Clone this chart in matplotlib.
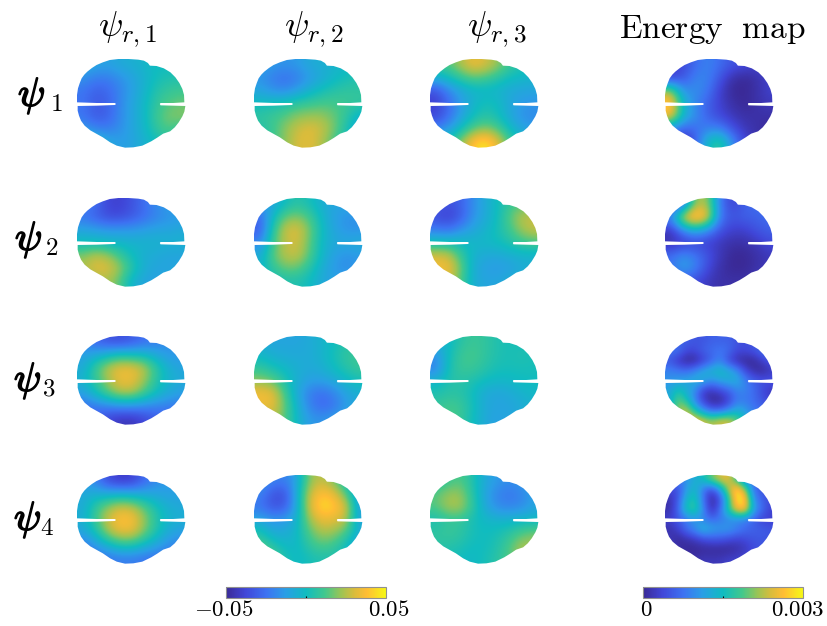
import matplotlib
matplotlib.use("Agg")
import matplotlib.pyplot as plt
import matplotlib.patheffects as pe
from matplotlib.cm import ScalarMappable
from matplotlib.colors import LinearSegmentedColormap, Normalize
from matplotlib.patches import Polygon
import numpy as np

plt.rcParams["mathtext.fontset"] = "cm"

W, H = 827, 626

col_titles = [r"$\psi_{r,1}$", r"$\psi_{r,2}$", r"$\psi_{r,3}$", r"$\mathrm{Energy\ \ map}$"]
row_digits = ["1", "2", "3", "4"]

# values: psi maps in 1e-3, energy maps in 1e-4
psi1_r1 = [[-8, -10, -12, -8, -6, -3, 0, 0, 0],
           [-16, -22, -22, -17, -11, -5, 1, 4, 4],
           [-24, -30, -28, -20, -12, -4, 5, 9, 11],
           [-24, -32, -30, -19, -10, -2, 8, 14, 16],
           [-24, -32, -30, -19, -10, -2, 10, 18, 20],
           [-14, -20, -22, -17, -10, -3, 8, 14, 6],
           [5, 0, -8, -13, -11, -5, 0, 5, 5]]
psi1_r2 = [[-10, -14, -16, -14, -8, -6, -4, -2, 0],
           [-16, -22, -26, -22, -14, -8, -2, 2, 4],
           [-10, -16, -18, -12, -4, 2, 6, 8, 8],
           [0, 2, 4, 8, 10, 12, 12, 10, 8],
           [8, 10, 14, 20, 22, 22, 16, 8, -4],
           [4, 10, 20, 28, 32, 28, 18, 4, -12],
           [5, 10, 20, 30, 32, 25, 12, 0, 0]]
psi1_r3 = [[10, 14, 24, 34, 30, 22, 10, 4, 0],
           [-6, 0, 8, 14, 12, 6, 0, -2, -4],
           [-35, -20, -10, -4, -3, -4, -8, -10, -10],
           [-40, -28, -14, -4, 2, 0, -8, -14, -16],
           [-38, -26, -12, 0, 6, 2, -8, -16, -18],
           [-20, -14, 0, 14, 20, 14, 0, -10, -14],
           [0, 6, 20, 40, 48, 34, 12, 0, 0]]
psi1_en = [[3, 4, 7, 9, 7, 5, 4, 3, 3],
           [3, 5, 9, 9, 5, 1, 0, 1, 3],
           [22, 10, 10, 8, 3, 0, 0, 1, 3],
           [28, 14, 9, 6, 3, 1, 0, 1, 2],
           [26, 14, 10, 6, 4, 2, 1, 1, 1],
           [10, 6, 7, 9, 9, 5, 2, 1, 0],
           [2, 0, 6, 15, 18, 10, 4, 1, 2]]

psi2_r1 = [[-20, -26, -38, -40, -34, -26, -18, -12, -10],
           [-24, -30, -36, -36, -32, -26, -20, -16, -14],
           [-10, -12, -14, -14, -14, -12, -10, -10, -8],
           [0, 0, -2, -3, -4, -4, -4, -5, -5],
           [18, 26, 22, 10, 0, -6, -8, -10, -10],
           [26, 32, 32, 22, 6, -6, -10, -10, -10],
           [14, 22, 24, 14, -4, -10, -12, -8, -8]]
psi2_r2 = [[-15, -10, 0, 6, 2, -6, -10, -10, -10],
           [-28, -2, 16, 20, 12, -2, -12, -16, -16],
           [-32, 6, 28, 32, 18, 0, -10, -16, -16],
           [-20, 10, 26, 30, 16, -2, -8, -8, -6],
           [-8, 14, 26, 28, 14, -2, -12, -16, -14],
           [-4, 8, 16, 16, 6, -6, -14, -18, -14],
           [0, 0, 4, 4, 0, -8, -12, -10, -10]]
psi2_r3 = [[-30, -35, -30, -18, -8, 0, 8, 14, 14],
           [-36, -40, -32, -16, -8, 0, 14, 26, 28],
           [-22, -25, -16, -10, -4, 2, 10, 22, 28],
           [2, 2, 0, -2, -2, 0, 4, 10, 12],
           [30, 28, 10, -4, -8, -8, -6, -4, -4],
           [36, 36, 18, -6, -12, -14, -12, -8, -6],
           [30, 30, 14, -6, -10, -10, -6, -4, -4]]
psi2_en = [[2, 6, 22, 22, 8, 3, 6, 7, 8],
           [10, 26, 30, 26, 8, 5, 6, 6, 7],
           [2, 10, 14, 10, 5, 3, 3, 5, 6],
           [1, 2, 3, 3, 2, 1, 1, 2, 4],
           [7, 10, 8, 5, 2, 0, 0, 1, 2],
           [8, 12, 9, 4, 1, 0, 0, 1, 2],
           [4, 5, 4, 2, 1, 1, 1, 2, 3]]

psi3_r1 = [[-20, -28, -34, -36, -32, -26, -22, -18, -14],
           [-12, -8, -2, 4, 2, 0, -8, -14, -16],
           [-8, 10, 26, 34, 34, 26, 8, -6, -10],
           [-4, 8, 22, 34, 34, 22, 6, -4, -8],
           [-12, 0, 14, 24, 24, 12, 0, -8, -12],
           [-26, -22, -20, -16, -16, -18, -20, -22, -24],
           [-30, -32, -38, -44, -44, -38, -32, -28, -26]]
psi3_r2 = [[-8, -10, -10, -10, -8, -4, 0, 6, 6],
           [-2, -6, -8, -8, -8, -4, 2, 8, 10],
           [8, 2, -2, -6, -8, -6, 0, 6, 10],
           [20, 16, 4, -6, -12, -12, -8, -2, 2],
           [36, 34, 12, -8, -22, -26, -20, -10, -6],
           [34, 34, 16, -4, -20, -28, -24, -14, -8],
           [20, 26, 14, -2, -14, -16, -12, -8, -8]]
psi3_r3 = [[-6, -2, 6, 10, 8, 4, 2, 2, 2],
           [-16, 0, 10, 12, 8, 4, 2, 4, 2],
           [-22, 2, 10, 10, 6, 2, 2, 2, 2],
           [-4, 4, 6, 4, 0, -2, -2, 0, 0],
           [4, 6, 6, 0, -8, -10, -8, -4, -2],
           [8, 12, 10, 2, -8, -10, -10, -8, -4],
           [10, 14, 10, 0, -8, -12, -10, -6, -4]]
psi3_en = [[6, 6, 6, 5, 5, 6, 6, 6, 5, 4, 5, 6, 6],
           [8, 8, 4, 4, 6, 7, 8, 7, 4, 4, 5, 7, 8],
           [5, 2, 0, 0, 3, 6, 9, 4, 1, 0, 0, 3, 5],
           [9, 8, 7, 9, 12, 14, 15, 13, 10, 4, 1, 0, 2],
           [10, 11, 12, 13, 13, 10, 12, 13, 13, 9, 6, 5, 5],
           [12, 16, 13, 10, 3, 2, 4, 6, 9, 9, 7, 4, 2],
           [12, 20, 16, 9, 3, 0, 0, 3, 8, 8, 7, 5, 3],
           [12, 22, 24, 16, 10, 6, 6, 9, 13, 11, 8, 7, 6],
           [10, 14, 24, 26, 24, 22, 24, 24, 20, 14, 10, 8, 8]]

psi4_r1 = [[-14, -20, -36, -42, -40, -28, -18, -14, -12],
           [-8, -6, -6, -4, -6, -8, -10, -12, -12],
           [-8, 8, 20, 28, 26, 14, 2, -6, -8],
           [-6, 10, 28, 40, 38, 22, 6, -4, -6],
           [-10, 2, 22, 32, 32, 18, 4, -8, -12],
           [-24, -14, -4, 6, 6, -2, -10, -18, -22],
           [-28, -26, -24, -22, -22, -24, -26, -24, -22]]
psi4_r2 = [[-14, -20, -22, -10, 20, 28, 18, 0, -10],
           [-20, -34, -36, -6, 28, 40, 34, 14, -14],
           [-24, -34, -32, -8, 30, 46, 42, 30, -12],
           [-10, -16, -14, -4, 22, 34, 32, 26, -12],
           [4, -8, -8, -2, 14, 24, 22, 12, -6],
           [14, 6, -2, -2, 8, 14, 10, 0, -14],
           [20, 14, 4, -2, 2, 4, 4, 0, -6]]
psi4_r3 = [[4, 10, 14, 4, -8, -14, -18, -14, -10],
           [14, 22, 22, 6, -10, -20, -24, -20, -12],
           [14, 24, 24, 8, -8, -18, -20, -18, -10],
           [2, 8, 8, 2, -2, -4, -4, -2, -2],
           [8, 10, 8, 2, 0, 2, 6, 12, 16],
           [6, 6, 4, 0, 0, 4, 12, 24, 24],
           [4, 2, 0, -2, 2, 6, 14, 24, 20]]
psi4_en = [[7, 8, 10, 13, 15, 20, 24, 25, 17, 9, 7, 6, 6],
           [4, 4, 11, 15, 8, 3, 10, 22, 30, 22, 7, 5, 4],
           [1, 5, 14, 17, 8, 0, 4, 16, 30, 28, 10, 6, 4],
           [1, 6, 16, 18, 10, 1, 7, 17, 26, 27, 12, 7, 3],
           [3, 5, 8, 10, 9, 7, 8, 9, 9, 8, 6, 3, 3],
           [1, 3, 7, 10, 14, 12, 11, 11, 9, 7, 6, 6, 5],
           [2, 0, 1, 2, 4, 5, 5, 4, 3, 4, 5, 5, 5],
           [3, 1, 0, 0, 0, 0, 0, 0, 1, 2, 4, 5, 6],
           [3, 3, 1, 1, 2, 2, 2, 3, 3, 4, 5, 6, 6]]

panels = [[psi1_r1, psi1_r2, psi1_r3, psi1_en],
          [psi2_r1, psi2_r2, psi2_r3, psi2_en],
          [psi3_r1, psi3_r2, psi3_r3, psi3_en],
          [psi4_r1, psi4_r2, psi4_r3, psi4_en]]

# brain outline, traced in pixels on a 332x267 box
outline = [(0, 130), (0, 108), (3, 88), (8, 73), (14, 58), (22, 47), (31, 38), (45, 27), (59, 18),
           (78, 10), (99, 3), (125, 0), (155, 0), (185, 2), (202, 5), (214, 12), (220, 20),
           (240, 21), (262, 28), (282, 40), (297, 55), (309, 72), (318, 90), (323, 108), (324, 130),
           (290, 132), (252, 132), (250, 135), (252, 139), (290, 140), (327, 141),
           (324, 158), (318, 172), (307, 190), (295, 205), (281, 217), (260, 224), (242, 236),
           (224, 247), (197, 260), (170, 265), (145, 266), (120, 260), (100, 250), (78, 235),
           (58, 224), (40, 214), (23, 200), (12, 185), (6, 170), (2, 155), (2, 141),
           (60, 140), (114, 138), (118, 135), (114, 132), (60, 132)]

parula = LinearSegmentedColormap.from_list(
    "parula",
    [(0.0, "#3a2a96"), (0.12, "#4046d8"), (0.25, "#3d72f2"), (0.37, "#2a9ee6"),
     (0.5, "#10bcc0"), (0.62, "#42c88c"), (0.72, "#9cc454"), (0.8, "#d8bc3c"),
     (0.88, "#ffbd34"), (1.0, "#f6f816")],
)
psi_norm = Normalize(-50, 50)
en_norm = Normalize(0, 30)

col_x = [77, 254, 430, 665]
row_y = [59, 198, 336, 475]
box_w, box_h = 110, 89


def add_axes_px(x, y, w, h):
    return fig.add_axes([x / W, 1 - (y + h) / H, w / W, h / H])


fig = plt.figure(figsize=(W / 100, H / 100), dpi=100)

for i, row in enumerate(panels):
    for j, vals in enumerate(row):
        ax = add_axes_px(col_x[j], row_y[i], box_w, box_h)
        ax.axis("off")
        norm = en_norm if j == 3 else psi_norm
        im = ax.imshow(vals, cmap=parula, norm=norm, interpolation="bicubic",
                       extent=(0, 332, 267, 0), aspect="auto")
        clip = Polygon(outline, closed=True, transform=ax.transData, fc="none", ec="none")
        ax.add_patch(clip)
        im.set_clip_path(clip)

title_x = [128, 314, 497, 712]
title_size = [26, 26, 26, 24]
for j, title in enumerate(col_titles):
    fig.text(title_x[j] / W, 1 - 29 / H, title, fontsize=title_size[j], ha="center", va="center")

label_x = [18, 15, 14, 14]
label_y = [96, 240, 381, 520]
digit_x = [50, 45, 42, 40]
for i, d in enumerate(row_digits):
    fig.text(label_x[i] / W, 1 - label_y[i] / H, r"$\psi$", fontsize=29, ha="left", va="center",
             path_effects=[pe.withStroke(linewidth=1.1, foreground="k")])
    fig.text(digit_x[i] / W, 1 - (label_y[i] + 8) / H, "$\\mathrm{%s}$" % d, fontsize=18,
             ha="left", va="center")

cbars = [(226, psi_norm, 0), (643, en_norm, 15)]
for x0, norm, mid in cbars:
    cax = add_axes_px(x0, 587, 160, 11)
    cb = fig.colorbar(ScalarMappable(norm=norm, cmap=parula), cax=cax, orientation="horizontal")
    cb.set_ticks([mid], labels=[""])
    cb.ax.tick_params(length=1.5, width=0.8, direction="in")
    cb.outline.set_edgecolor("#909090")
    cb.outline.set_linewidth(0.8)

cbar_labels = ["$-0.05$", "$0.05$", "$0$", "$0.003$"]
cbar_label_x = [224, 389, 646, 798]
for lab, x in zip(cbar_labels, cbar_label_x):
    fig.text(x / W, 1 - 610 / H, lab, fontsize=16.5, ha="center", va="center")

fig.savefig("out.png", dpi=100)
